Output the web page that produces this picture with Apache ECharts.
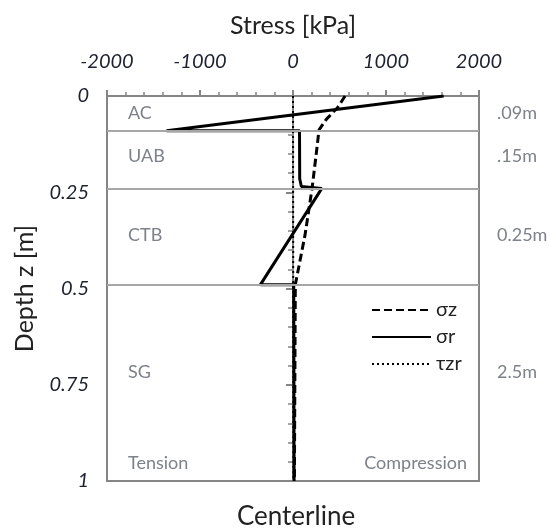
<!DOCTYPE html>
<html lang="en">
<head>
    <meta charset="UTF-8">
    <title>Stress vs depth</title>
    <script src="https://cdn.jsdelivr.net/npm/echarts@6/dist/echarts.min.js"></script>
    <style>
        body { margin: 0; background: #fff; }
    </style>
</head>
<body>
<div id="main" style="width: 550px;height:528px;"></div>
<script>
    // depth [m] and stress [kPa]
    var sigmaZDepth = [0, 0.03, 0.06, 0.088, 0.16, 0.24, 0.36, 0.49, 0.49, 1.0];
    var sigmaZ      = [560, 480, 360, 280, 245, 205, 130, 25, 15, 15];

    var sigmaRDepth = [0, 0.09, 0.09, 0.215, 0.235, 0.24, 0.49, 0.49, 1.0];
    var sigmaR      = [1620, -1360, 70, 72, 90, 310, -350, 8, 12];

    var tauDepth = [0, 1.0];
    var tau      = [0, 5];

    var layerBounds = [0.09, 0.24, 0.49];
    var layerNames  = ['AC', 'UAB', 'CTB', 'SG'];
    var layerMid    = [0.044, 0.156, 0.362, 0.718];
    var layerThick  = ['.09m', '.15m', '0.25m', '2.5m'];

    var xTicks = [-2000, -1000, 0, 1000, 2000];
    var yTicks = [0, 0.25, 0.5, 0.75, 1];

    function pairs(depths, vals) {
        return vals.map(function (v, i) { return [v, depths[i]]; });
    }

    var font = 'Lato, "Open Sans", sans-serif';
    var axisGray = '#858585';
    var noteColor = '#7d8189';

    var option = {
        animation: false,
        grid: {
            left: 107, right: 71, top: 96, bottom: 47,
            show: true, borderColor: axisGray, borderWidth: 2
        },
        legend: {
            orient: 'vertical',
            left: 366, top: 295,
            itemWidth: 59, itemHeight: 14, itemGap: 7,
            data: ['σz', 'σr', 'τzr'],
            itemStyle: { opacity: 0 },
            textStyle: { fontSize: 20, fontFamily: font, color: '#222' }
        },
        xAxis: {
            type: 'value', position: 'top',
            min: xTicks[0], max: xTicks[xTicks.length - 1], interval: 1000,
            name: 'Stress [kPa]', nameLocation: 'middle', nameGap: 58,
            nameTextStyle: { fontSize: 25, fontFamily: font, color: '#222' },
            axisLine: { lineStyle: { color: axisGray, width: 2 } },
            axisTick: { length: 6, lineStyle: { color: axisGray, width: 2 } },
            minorTick: { show: true, splitNumber: 5, length: 4, lineStyle: { color: axisGray, width: 1.5 } },
            splitLine: { show: false },
            axisLabel: {
                margin: 24, fontSize: 20, fontStyle: 'italic', fontFamily: font, color: '#1e2230',
                formatter: function (v) { return String(v); }
            }
        },
        yAxis: {
            type: 'value', inverse: true,
            min: yTicks[0], max: yTicks[yTicks.length - 1], interval: 0.25,
            name: 'Depth z [m]', nameLocation: 'middle', nameGap: 70, nameRotate: 90,
            nameTextStyle: { fontSize: 25, fontFamily: font, color: '#222' },
            axisLine: { lineStyle: { color: axisGray, width: 2 } },
            axisTick: { length: 7, lineStyle: { color: axisGray, width: 2 } },
            minorTick: { show: true, splitNumber: 5, length: 5, lineStyle: { color: axisGray, width: 1.5 } },
            splitLine: { show: false },
            axisLabel: {
                margin: 18, fontSize: 20, fontStyle: 'italic', fontFamily: font, color: '#1e2230',
                formatter: function (v) { return String(v); }
            }
        },
        series: [
            {
                name: 'τzr', type: 'line', symbol: 'none',
                data: pairs(tauDepth, tau),
                lineStyle: { color: '#000', width: 2, type: [2, 3] },
                itemStyle: { color: '#000' },
                markLine: {
                    silent: true, symbol: 'none',
                    label: { show: false },
                    lineStyle: { color: '#a6a6a6', type: 'solid', width: 2 },
                    data: layerBounds.map(function (d) { return { yAxis: d }; })
                }
            },
            {
                name: 'σz', type: 'line', symbol: 'none',
                data: pairs(sigmaZDepth, sigmaZ),
                lineStyle: { color: '#000', width: 3, type: [8, 4] },
                itemStyle: { color: '#000' }
            },
            {
                name: 'σr', type: 'line', symbol: 'none',
                data: pairs(sigmaRDepth, sigmaR),
                lineStyle: { color: '#000', width: 3, type: 'solid' },
                itemStyle: { color: '#000' }
            }
        ]
    };

    var myChart = echarts.init(document.getElementById('main'));
    myChart.setOption(option);

    // layer names, thickness notes and side notes placed through the axes
    var gx0 = myChart.convertToPixel({ gridIndex: 0 }, [xTicks[0], 0])[0];
    var gx1 = myChart.convertToPixel({ gridIndex: 0 }, [xTicks[xTicks.length - 1], 0])[0];
    var noteFont = '18px ' + font;
    var graphics = [];
    layerNames.forEach(function (n, i) {
        var y = myChart.convertToPixel({ gridIndex: 0 }, [0, layerMid[i]])[1];
        graphics.push({
            type: 'text', x: gx0 + 21, y: y,
            style: { text: n, fill: noteColor, font: noteFont, textVerticalAlign: 'middle' }
        });
        graphics.push({
            type: 'text', x: gx1 + 18, y: y,
            style: { text: layerThick[i], fill: noteColor, font: noteFont, textVerticalAlign: 'middle' }
        });
    });
    var yNote = myChart.convertToPixel({ gridIndex: 0 }, [0, 0.953])[1];
    graphics.push({
        type: 'text', x: gx0 + 21, y: yNote,
        style: { text: 'Tension', fill: noteColor, font: noteFont, textVerticalAlign: 'middle' }
    });
    graphics.push({
        type: 'text', x: gx1 - 12, y: yNote,
        style: { text: 'Compression', fill: noteColor, font: noteFont, textAlign: 'right', textVerticalAlign: 'middle' }
    });
    var xZero = myChart.convertToPixel({ gridIndex: 0 }, [0, 0])[0];
    graphics.push({
        type: 'text', x: xZero + 3, y: 517,
        style: { text: 'Centerline', fill: '#222', font: '26px ' + font, textAlign: 'center', textVerticalAlign: 'middle' }
    });
    myChart.setOption({ graphic: graphics });
</script>
</body>
</html>
